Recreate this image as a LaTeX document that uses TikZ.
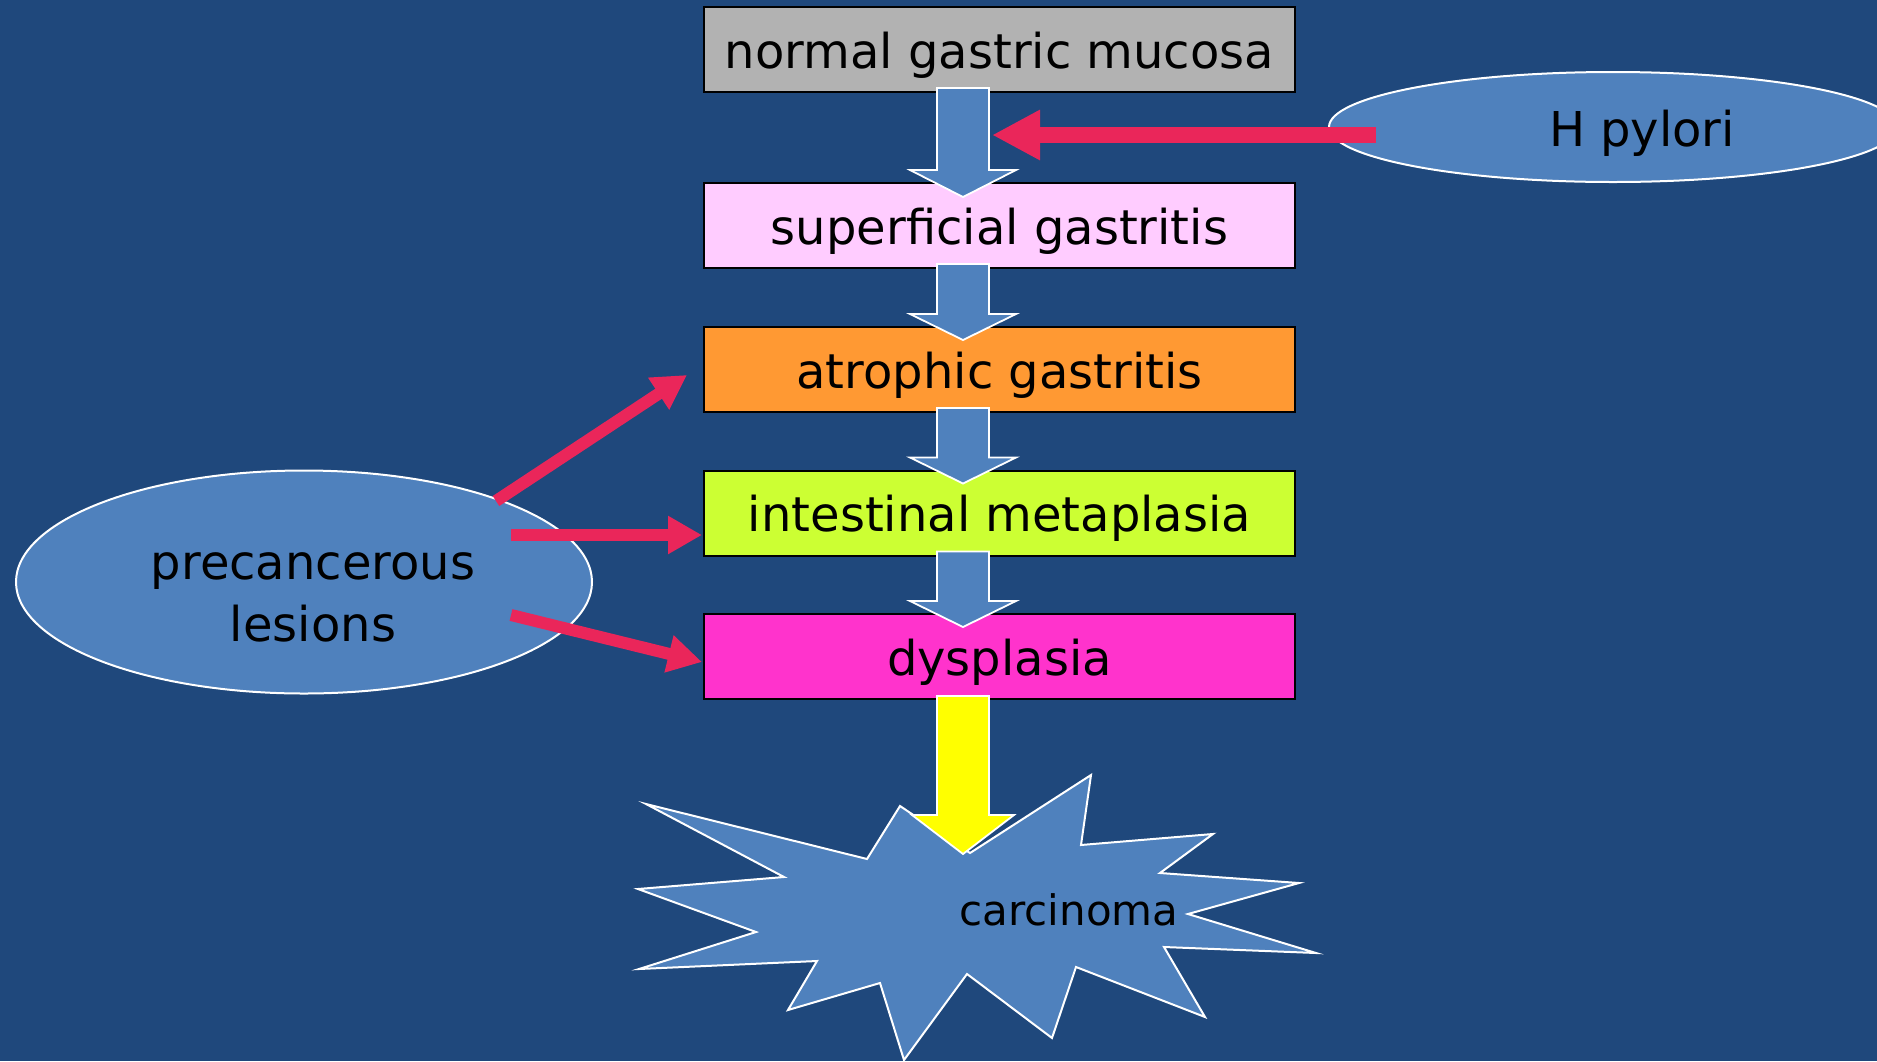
\documentclass[tikz,border=0pt]{standalone}
\usepackage{fontspec}
\setmainfont{DejaVu Sans}
\usetikzlibrary{arrows.meta,shapes.geometric,calc}
\definecolor{bg}{RGB}{31,72,124}
\definecolor{lblue}{RGB}{79,129,189}
\definecolor{redarr}{RGB}{234,38,90}
\definecolor{cgray}{RGB}{178,178,178}
\definecolor{cpink}{RGB}{255,204,255}
\definecolor{corange}{RGB}{255,153,51}
\definecolor{clime}{RGB}{204,255,51}
\definecolor{cmagenta}{RGB}{255,51,204}
\definecolor{cyellow}{RGB}{255,255,0}
\newcommand\blockarrow[5]{%
  \filldraw[blockline, fill=#3] let \p1=(#1), \p2=(#2) in
   (\x2-26pt,\y1) -- (\x2+26pt,\y1) -- (\x2+26pt,\y2+#4) -- (\x2+#5,\y2+#4)
   -- (\x2,\y2) -- (\x2-#5,\y2+#4) -- (\x2-26pt,\y2+#4) -- cycle;}
\begin{document}
\begin{tikzpicture}[x=1pt,y=-1pt,
  stagebox/.style={draw=black, line width=2pt, rectangle, minimum width=591pt,
     minimum height=85pt, inner sep=0pt, text height=42pt, text depth=5pt,
     font=\fontsize{48}{58}\selectfont},
  blockline/.style={draw=white, line width=1.8pt, line join=miter},
  blobshape/.style={ellipse, draw=white, line width=2pt, fill=lblue, inner sep=0pt},
  bigtext/.style={font=\fontsize{48}{62}\selectfont, align=center, inner sep=0pt},
  redline/.style={draw=redarr, line cap=butt},
]
\useasboundingbox (0,0) rectangle (1877,1061);
\clip (0,0) rectangle (1877,1061);
\fill[bg] (0,0) rectangle (1877,1061);

% carcinoma star
\filldraw[fill=lblue, draw=white, line width=2pt, line join=miter]
 (646,804) -- (867,859) -- (900,806) -- (970,853) -- (1091,775) -- (1081,845)
 -- (1213,834) -- (1160,873) -- (1299,883) -- (1188,914) -- (1316,953)
 -- (1164,947) -- (1205,1017) -- (1076,967) -- (1052,1038) -- (967,974)
 -- (904,1060) -- (880,983) -- (788,1010) -- (817,961) -- (639,969)
 -- (756,932) -- (638,889) -- (784,877) -- cycle;
\node[font=\fontsize{42}{50}\selectfont, inner sep=0pt] (carc) at (1069,910) {carcinoma};

% stage boxes
\node[stagebox, fill=cgray]    (b1) at (999.5,49.5)  {normal gastric mucosa};
\node[stagebox, fill=cpink]    (b2) at (999.5,225.5) {superficial gastritis};
\node[stagebox, fill=corange]  (b3) at (999.5,369.5) {atrophic gastritis};
\node[stagebox, fill=clime]    (b4) at (999.5,513)   {intestinal metaplasia};
\node[stagebox, fill=cmagenta] (b5) at (999.5,656.5) {dysplasia};

% block arrows
\coordinate (s1) at ([xshift=-36.5pt,yshift=5pt]b1.south);
\coordinate (t1) at ([xshift=-36.5pt,yshift=-15pt]b2.north);
\coordinate (s2) at ([xshift=-36.5pt,yshift=5pt]b2.south);
\coordinate (t2) at ([xshift=-36.5pt,yshift=-14pt]b3.north);
\coordinate (s3) at ([xshift=-36.5pt,yshift=5pt]b3.south);
\coordinate (t3) at ([xshift=-36.5pt,yshift=-14pt]b4.north);
\coordinate (s4) at ([xshift=-36.5pt,yshift=5pt]b4.south);
\coordinate (t4) at ([xshift=-36.5pt,yshift=-14pt]b5.north);
\coordinate (s5) at ([xshift=-36.5pt,yshift=4pt]b5.south);
\coordinate (t5) at (963,854);
\blockarrow{s1}{t1}{lblue}{27pt}{53pt}
\blockarrow{s2}{t2}{lblue}{26pt}{53pt}
\blockarrow{s3}{t3}{lblue}{26pt}{53pt}
\blockarrow{s4}{t4}{lblue}{26pt}{53pt}
\blockarrow{s5}{t5}{cyellow}{39pt}{51pt}

% ellipses
\node[blobshape, minimum width=568pt, minimum height=110pt] (hp) at (1613,127) {};
\node[bigtext] (hptext) at (1642,133) {H pylori};
\node[blobshape, minimum width=576pt, minimum height=223pt] (pre) at (304,582) {};
\node[bigtext] (pretext) at (313,597) {precancerous\\lesions};

% red arrows
\coordinate (hpS) at (1376,135);
\coordinate (hpT) at (992,135);
\draw[redline, line width=16pt, -{Triangle[length=48pt,width=47pt]}] (hpS) -- (hpT);
\coordinate (pA) at (496,501);
\coordinate (pAt) at (687,375);
\coordinate (pB) at (511,535);
\coordinate (pBt) at (702,535);
\coordinate (pC) at (511,615);
\coordinate (pCt) at (702,662);
\draw[redline, line width=12pt, -{Triangle[length=34pt,width=36pt]}] (pA) -- (pAt);
\draw[redline, line width=12pt, -{Triangle[length=34pt,width=36pt]}] (pB) -- (pBt);
\draw[redline, line width=12pt, -{Triangle[length=34pt,width=36pt]}] (pC) -- (pCt);
\end{tikzpicture}
\end{document}
